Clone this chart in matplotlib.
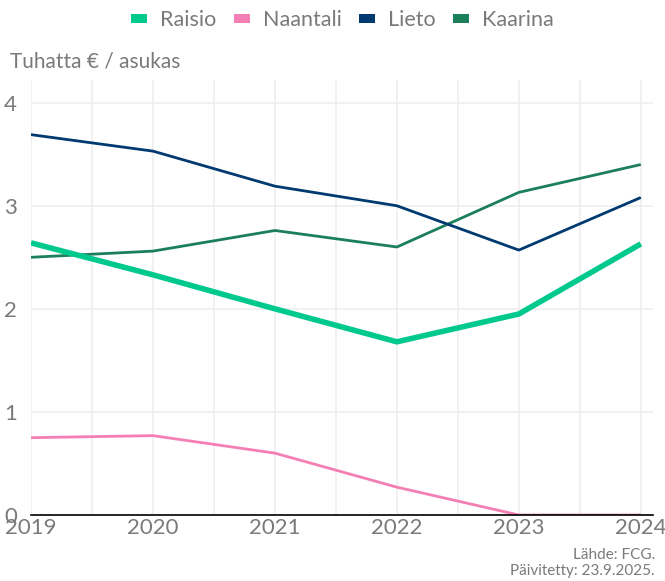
import matplotlib.pyplot as plt
from matplotlib.patches import Patch

plt.rcParams['font.family'] = ['Lato', 'DejaVu Sans']

years = [2019, 2020, 2021, 2022, 2023, 2024]
names = ['Raisio', 'Naantali', 'Lieto', 'Kaarina']
raisio = [2.64, 2.33, 2.00, 1.68, 1.95, 2.63]
naantali = [0.75, 0.77, 0.60, 0.27, 0.00, 0.00]
lieto = [3.69, 3.53, 3.19, 3.00, 2.57, 3.08]
kaarina = [2.50, 2.56, 2.76, 2.60, 3.13, 3.40]
colors = ['#00c98d', '#f47fb5', '#003a70', '#1a7f5a']
widths = [4.0, 2.0, 2.0, 2.0]

grey = '#7a7a7a'
fig = plt.figure(figsize=(6.65, 5.81), dpi=100)
ax = fig.add_axes([31 / 665, 1 - 515 / 581, 622 / 665, 435 / 581])

series = [raisio, naantali, lieto, kaarina]
# draw in reverse so Raisio ends up on top
for vals, c, w in reversed(list(zip(series, colors, widths))):
    ax.plot(years, vals, color=c, lw=w, solid_capstyle='butt', zorder=3)

ax.set_xlim(2019, 2024.1)
ax.set_ylim(0, 4.22)
ax.set_xticks(years)
ax.set_xticks([y + 0.5 for y in years[:-1]], minor=True)
ax.set_yticks([0, 1, 2, 3, 4])
ax.grid(True, which='both', color='#efefef', lw=1.2, zorder=0)
ax.tick_params(which='both', length=0)
ax.tick_params(axis='x', labelsize=16, labelcolor=grey, pad=2)
ax.tick_params(axis='y', labelsize=16, labelcolor=grey, pad=10)
for s in ['top', 'right', 'left']:
    ax.spines[s].set_visible(False)
ax.spines['bottom'].set_color('black')
ax.spines['bottom'].set_linewidth(1.2)
ax.spines['bottom'].set_zorder(4)

fig.text(10 / 665, 1 - 62 / 581, 'Tuhatta € / asukas', fontsize=15, color=grey, va='center')
handles = [Patch(facecolor=c, edgecolor='none') for c in colors]
fig.legend(handles, names, loc='center', bbox_to_anchor=(0.515, 1 - 20 / 581), ncol=4,
           frameon=False, fontsize=15.5, labelcolor=grey, handlelength=0.75, handleheight=0.3,
           handletextpad=0.6, columnspacing=0.8)
fig.text(655 / 665, 1 - 555 / 581, 'Lähde: FCG.', fontsize=11, color=grey, ha='right', va='center')
fig.text(655 / 665, 1 - 571 / 581, 'Päivitetty: 23.9.2025.', fontsize=11, color=grey, ha='right', va='center')

fig.savefig('out.png', dpi=100)
